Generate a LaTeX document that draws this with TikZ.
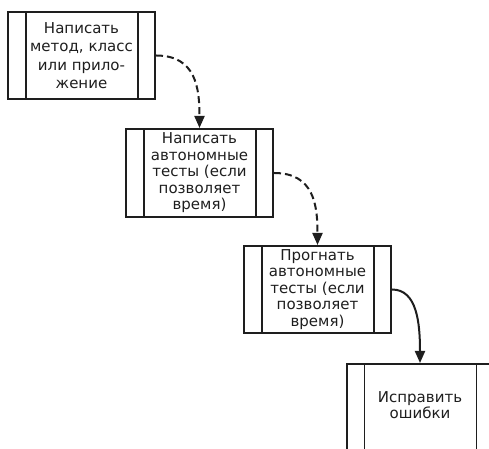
\documentclass[tikz,border=0pt]{standalone}
\usepackage{fontspec}
\setmainfont{DejaVu Sans}
\usetikzlibrary{arrows.meta}
\definecolor{ink}{HTML}{1E1E1E}
\tikzset{
  procbox/.style={draw=ink, line width=2bp, minimum width=147bp, minimum height=87bp,
    inner sep=0pt, align=center, text=ink,
    font=\fontsize{15bp}{16.5bp}\selectfont,
    path picture={
      \draw[ink, line width=1.8bp] ([xshift=18bp]path picture bounding box.north west) -- ([xshift=18bp]path picture bounding box.south west);
      \draw[ink, line width=1.8bp] ([xshift=-17bp]path picture bounding box.north east) -- ([xshift=-17bp]path picture bounding box.south east);
    }},
  flow/.style={ink, line width=2bp, -{Triangle[length=12bp,width=10bp]}},
  dashflow/.style={flow, dash pattern=on 7bp off 4bp},
  labeltext/.style={align=center, text=ink, font=\fontsize{15bp}{16.5bp}\selectfont, inner sep=0pt}
}
\begin{document}
\begin{tikzpicture}[x=1bp,y=1bp]
\useasboundingbox (0,0) rectangle (489,449);
\node[procbox, font=\fontsize{15bp}{18.5bp}\selectfont] (b1) at (81.5,393.5) {Написать\\метод, класс\\или прило-\\жение};
\node[procbox, minimum height=88bp] (b2) at (199.5,276) {Написать\\автономные\\тесты (если\\позволяет\\время)};
\node[procbox] (b3) at (317.5,159.5) {Прогнать\\автономные\\тесты (если\\позволяет\\время)};
\node[procbox, minimum height=200bp, anchor=north] (b4) at (420,86) {};
\node[labeltext] (t4) at (420,44) {Исправить\\ошибки};
\draw[dashflow] (b1.east) .. controls +(40,0) and +(0,40) .. (b2.north);
\draw[dashflow] (b2.east) .. controls +(40,0) and +(0,40) .. (b3.north);
\draw[flow] (b3.east) .. controls +(25,0) and +(0,40) .. (b4.north);
\end{tikzpicture}
\end{document}
